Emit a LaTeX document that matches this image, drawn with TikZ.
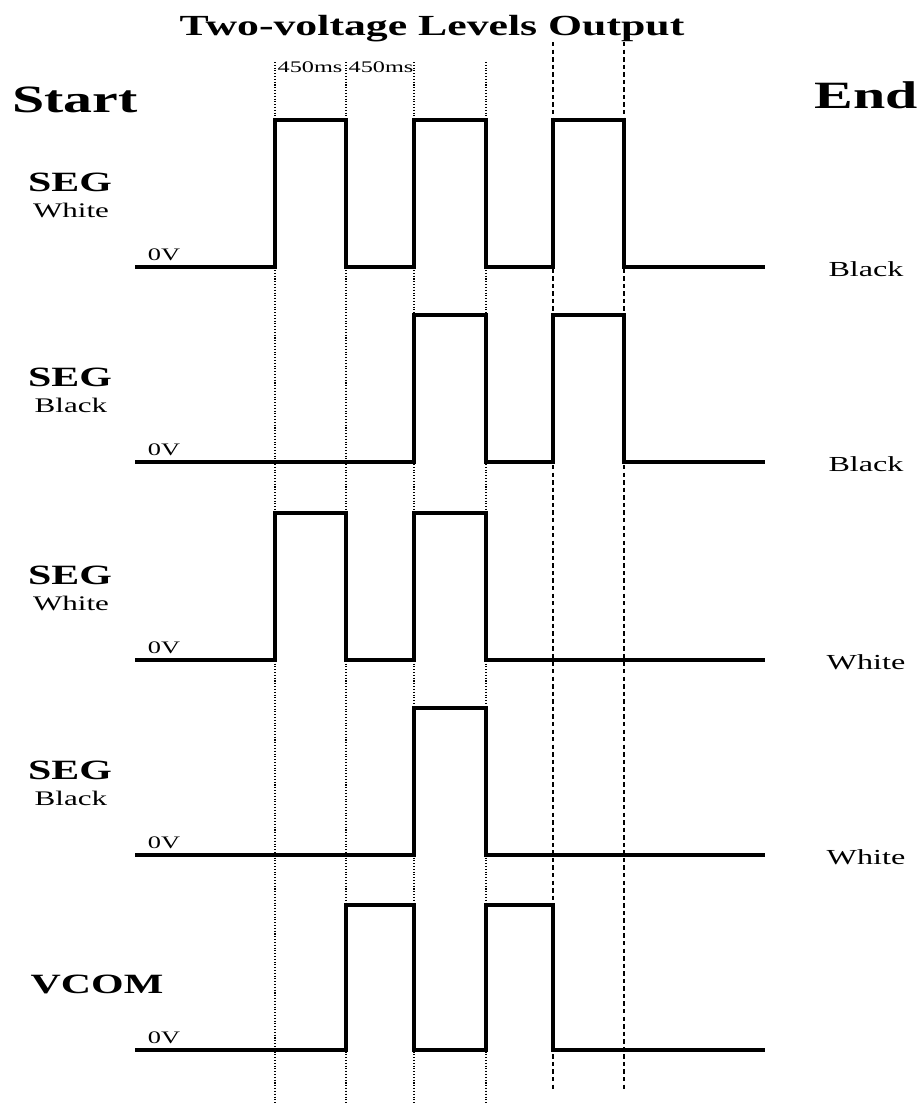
\documentclass[tikz,border=0pt]{standalone}
\usepackage{fontspec}
\setmainfont{Liberation Serif}
\usepackage{tikz}
\usetikzlibrary{positioning}

\tikzset{
	lbltitle/.style={font=\fontsize{16.6}{18}\selectfont\bfseries, anchor=base},
	lblbig/.style={font=\fontsize{22}{24}\selectfont\bfseries, anchor=base},
	lblsig/.style={font=\fontsize{15.9}{17}\selectfont\bfseries, anchor=base},
	lblsub/.style={font=\fontsize{11.8}{13}\selectfont, anchor=base},
	lblres/.style={font=\fontsize{12.2}{13}\selectfont, anchor=base},
	lblzero/.style={font=\fontsize{10}{11}\selectfont, anchor=base},
	lblms/.style={font=\fontsize{9.2}{10}\selectfont, anchor=base},
	wave/.style={line width=2.3pt, line join=miter},
	dotgrid/.style={densely dotted, line width=0.6pt},
	dashgrid/.style={dash pattern=on 2.5pt off 1.8pt, line width=1pt}
}

\begin{document}
\begin{tikzpicture}[x=0.02cm, y=-0.02cm, every node/.style={xscale=1.5, inner sep=0pt}]
	\useasboundingbox (0,0) rectangle (920,1103);
	
	% time marks
	\foreach \x in {275,346,414,486}
	\draw [dotgrid] (\x,62) -- (\x,1103);
	\foreach \x in {553,624}
	\draw [dashgrid] (\x,42) -- (\x,1092);
	
	\node [lbltitle] (title) at (432,35) {Two-voltage Levels Output};
	\node [lblbig] (start) at (75,112) {Start};
	\node [lblbig] (end) at (866,108) {End};
	\node [lblms] (ms1) at (310,72) {450ms};
	\node [lblms] (ms2) at (381,72) {450ms};
	
	% signal rows
	\foreach \b/\sub/\res [count=\i] in {267/White/Black, 462/Black/Black, 660/White/White, 855/Black/White}
	{
		\node [lblsig] (sig\i) at (70,\b-76) {SEG};
		\node [lblsub] (sub\i) at (71,\b-50) {\sub};
		\node [lblzero] (zero\i) at (164,\b-7) {0V};
		\node [lblres] (res\i) at (866,\b+9) {\res};
	}
	\node [lblsig] (vcom) at (97,993) {VCOM};
	\node [lblzero] (zero5) at (164,1043) {0V};
	
	% waveforms
	\draw [wave] (135,267) -- (275,267) -- (275,120) -- (346,120) -- (346,267) -- (414,267) -- (414,120) -- (486,120) -- (486,267) -- (553,267) -- (553,120) -- (624,120) -- (624,267) -- (765,267);
	\draw [wave] (135,462) -- (414,462) -- (414,315) -- (486,315) -- (486,462) -- (553,462) -- (553,315) -- (624,315) -- (624,462) -- (765,462);
	\draw [wave] (135,660) -- (275,660) -- (275,513) -- (346,513) -- (346,660) -- (414,660) -- (414,513) -- (486,513) -- (486,660) -- (765,660);
	\draw [wave] (135,855) -- (414,855) -- (414,708) -- (486,708) -- (486,855) -- (765,855);
	\draw [wave] (135,1050) -- (346,1050) -- (346,905) -- (414,905) -- (414,1050) -- (486,1050) -- (486,905) -- (553,905) -- (553,1050) -- (765,1050);
\end{tikzpicture}
\end{document}
